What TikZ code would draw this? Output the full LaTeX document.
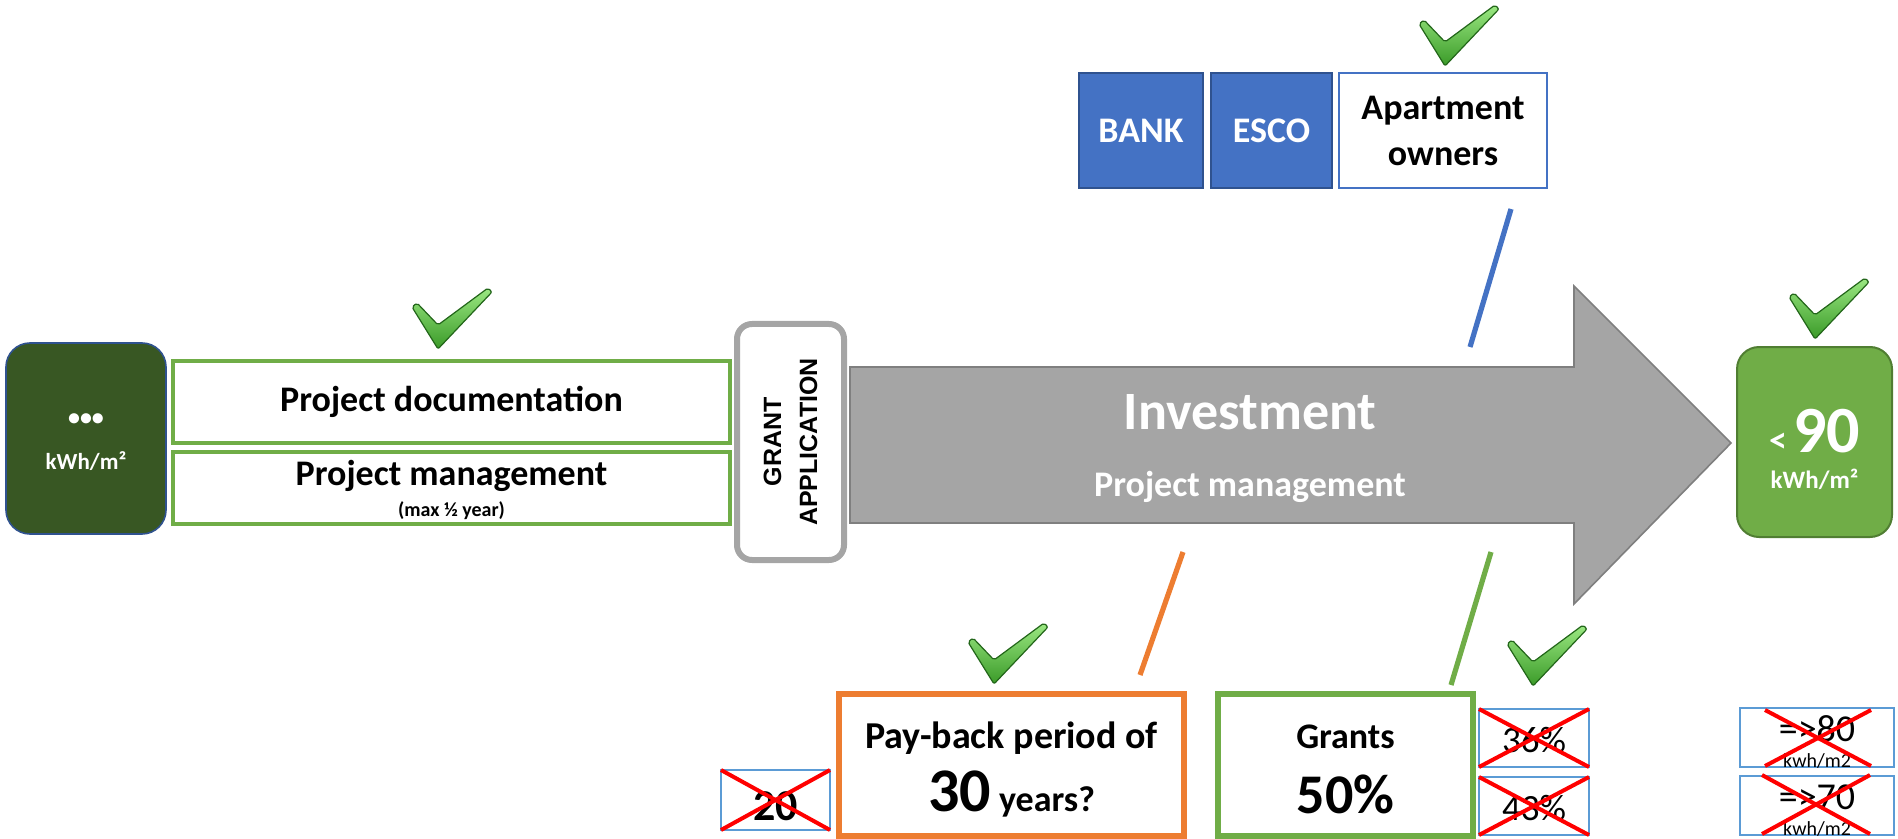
\documentclass[tikz,border=0pt]{standalone}
\usepackage{fontspec}
\setmainfont{Carlito}
\newfontfamily\arialfont{Liberation Sans}
\definecolor{dkgreen}{HTML}{385723}
\definecolor{ggreen}{HTML}{70AD47}
\definecolor{ggreendk}{HTML}{507E32}
\definecolor{bblue}{HTML}{4472C4}
\definecolor{bbluedk}{HTML}{2F528F}
\definecolor{lblue}{HTML}{5B9BD5}
\definecolor{oorange}{HTML}{ED7D31}
\definecolor{ggray}{HTML}{A5A5A5}
\definecolor{ggraydk}{HTML}{7F7F7F}
\definecolor{chklight}{HTML}{9BE882}
\definecolor{chkdark}{HTML}{3A9A28}
\definecolor{chkedge}{HTML}{23661A}
\tikzset{
  plain/.style={inner sep=0pt, outer sep=0pt},
  gbox/.style={draw=ggreen, line width=2.2pt, fill=white, plain},
  crossbox/.style={draw=lblue, line width=1.2pt, fill=white, plain},
  cross/.style={draw=red, line width=2pt},
  tie/.style={line width=2.6pt},
  txt/.style={plain, align=center},
}
\newcommand\tick[2]{%
  \begin{scope}[shift={(#1,#2)}]
    \shade[top color=chklight, bottom color=chkdark, draw=chkedge, line width=0.6pt, rounded corners=1pt]
      (0,19) -- (5,15) -- (26,37) -- (76,0) -- (80,4) -- (26,61) -- cycle;
  \end{scope}}
\begin{document}
\begin{tikzpicture}[x=0.5pt, y=-0.5pt]
\useasboundingbox (0,0) rectangle (1898,839);

% start box
\node[plain, draw=bbluedk, line width=0.8pt, fill=dkgreen, rounded corners=12pt,
      minimum width=80pt, minimum height=95.5pt] (start) at (86,438.5) {};
\node[txt, text=white] (dots) at (86,420) {\fontsize{12}{12}\selectfont\bfseries •••};
\node[txt, text=white] (startunit) at (86,461) {\fontsize{11.5}{12}\selectfont\bfseries kWh/m²};

% project boxes
\node[gbox, minimum width=278.5pt, minimum height=41pt] (doc) at (451.5,402) {};
\node[txt] (doctxt) at (451.5,402) {\fontsize{18}{20}\selectfont\bfseries Project documentation};
\node[gbox, minimum width=278.5pt, minimum height=36pt] (mgmt) at (451.5,488) {};
\node[txt] (mgmttxt) at (451.5,476) {\fontsize{18}{20}\selectfont\bfseries Project management};
\node[txt] (mgmtsub) at (451.5,511) {\fontsize{10}{11}\selectfont\bfseries (max ½ year)};
\tick{412}{288}

% grant application
\node[plain, draw=ggray, line width=3pt, fill=white, rounded corners=7.5pt,
      minimum width=53.5pt, minimum height=118pt] (grant) at (790.5,442) {};
\node[txt, rotate=90, font={\arialfont\fontsize{12.5}{18}\selectfont\bfseries}] (granttxt) at (790.5,442)
  {GRANT\\APPLICATION};

% big arrow
\draw[fill=ggray, draw=ggraydk, line width=0.8pt]
  (850,367) -- (1574,367) -- (1574,286) -- (1731,443) -- (1574,604) -- (1574,523) -- (850,523) -- cycle;
\coordinate (tip) at (1731,443);
\node[txt, text=white] (inv) at (1250,412) {\fontsize{27}{30}\selectfont\bfseries Investment};
\node[txt, text=white] (invpm) at (1250,487) {\fontsize{18}{20}\selectfont\bfseries Project management};

% result box
\node[plain, draw=ggreendk, line width=1pt, fill=ggreen, rounded corners=11pt,
      minimum width=77.5pt, minimum height=95pt] (result) at (1814.5,442) {};
\node[txt, text=white] (lt90) at (1814.5,431) {\bfseries{\fontsize{18}{20}\selectfont <\,}{\fontsize{33}{34}\selectfont 90}};
\node[txt, text=white] (resunit) at (1814.5,479) {\fontsize{12.5}{13}\selectfont\bfseries kWh/m²};
\tick{1789}{278}

% top boxes
\node[plain, draw=bbluedk, line width=1pt, fill=bblue, minimum width=62pt, minimum height=57.5pt] (bank) at (1141,130.5) {};
\node[txt, text=white] at (bank) {\fontsize{18}{20}\selectfont\bfseries BANK};
\node[plain, draw=bbluedk, line width=1pt, fill=bblue, minimum width=60.5pt, minimum height=57.5pt] (esco) at (1271.5,130.5) {};
\node[txt, text=white] at (esco) {\fontsize{18}{20}\selectfont\bfseries ESCO};
\node[plain, draw=bblue, line width=1pt, fill=white, minimum width=104pt, minimum height=57.5pt] (apt) at (1443,130.5) {};
\node[txt, font={\fontsize{18}{23}\selectfont\bfseries}] (apttxt) at (1443,131) {Apartment\\owners};
\tick{1419}{5}

% connectors
\coordinate (blueA) at (1511,209);
\coordinate (blueB) at (1470,347);
\draw[tie, draw=bblue] (blueA) -- (blueB);
\coordinate (orA) at (1183,552);
\coordinate (orB) at (1140,675);
\draw[tie, draw=oorange] (orA) -- (orB);
\coordinate (grA) at (1491,552);
\coordinate (grB) at (1451,685);
\draw[tie, draw=ggreen] (grA) -- (grB);

% payback
\node[plain, draw=oorange, line width=3pt, fill=white, minimum width=172.5pt, minimum height=71pt] (payback) at (1011.5,765) {};
\node[txt] (pbtxt) at (1011.5,738) {\fontsize{19}{20}\selectfont\bfseries Pay-back period of};
\node[txt] (pbyears) at (1011.5,794) {\bfseries{\fontsize{31}{32}\selectfont 30}{\fontsize{18}{20}\selectfont\ years?}};
\tick{968}{623}

% grants
\node[plain, draw=ggreen, line width=3pt, fill=white, minimum width=127.5pt, minimum height=71pt] (grants) at (1345.5,765) {};
\node[txt] (grtxt) at (1345.5,737) {\fontsize{18}{20}\selectfont\bfseries Grants};
\node[txt] (grpct) at (1345.5,794) {\fontsize{28}{30}\selectfont\bfseries 50\%};
\tick{1507}{625}

% crossed boxes
\node[crossbox, minimum width=55pt, minimum height=29pt] (p36) at (1534,738) {};
\node[txt] at (1534,740) {\fontsize{18.5}{20}\selectfont 36\%};
\draw[cross] (p36.north west) -- (p36.south east);
\draw[cross] (p36.south west) -- (p36.north east);

\node[crossbox, minimum width=55pt, minimum height=29pt] (p43) at (1534,806) {};
\node[txt] at (1534,808) {\fontsize{18.5}{20}\selectfont 43\%};
\draw[cross] (p43.north west) -- (p43.south east);
\draw[cross] (p43.south west) -- (p43.north east);

\node[crossbox, minimum width=54.5pt, minimum height=30pt] (y20) at (775.5,800) {};
\node[txt] at (775.5,806) {\fontsize{22}{24}\selectfont\bfseries 20};
\draw[cross] (y20.north west) -- (y20.south east);
\draw[cross] (y20.south west) -- (y20.north east);

\node[crossbox, minimum width=77pt, minimum height=29.5pt] (k80) at (1817,737.5) {};
\node[txt] at (1817,729) {\fontsize{19}{20}\selectfont =>80};
\node[txt] at (1817,761) {\fontsize{10}{11}\selectfont kwh/m2};
\coordinate (k80a) at (1765,710);
\coordinate (k80b) at (1871,766);
\coordinate (k80c) at (1765,766);
\coordinate (k80d) at (1871,710);
\draw[cross] (k80a) -- (k80b);
\draw[cross] (k80c) -- (k80d);

\node[crossbox, minimum width=77pt, minimum height=29.5pt] (k70) at (1817,805.5) {};
\node[txt] at (1817,797) {\fontsize{19}{20}\selectfont =>70};
\node[txt] at (1817,829) {\fontsize{10}{11}\selectfont kwh/m2};
\coordinate (k70a) at (1762,775);
\coordinate (k70b) at (1870,834);
\coordinate (k70c) at (1762,834);
\coordinate (k70d) at (1870,775);
\draw[cross] (k70a) -- (k70b);
\draw[cross] (k70c) -- (k70d);
\end{tikzpicture}
\end{document}
